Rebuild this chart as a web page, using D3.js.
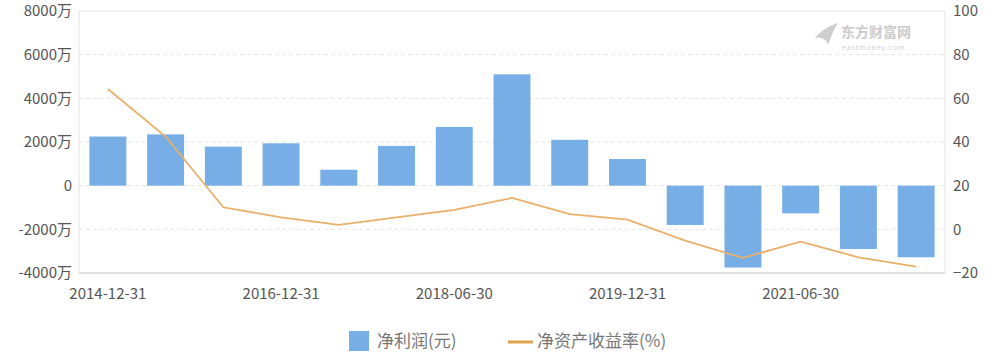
<!DOCTYPE html>
<html><head><meta charset="utf-8">
<script src="https://cdn.jsdelivr.net/npm/d3@7"></script>
<style>
html,body{margin:0;padding:0;background:#fff;}
text{font-family:"Noto Sans CJK SC","Noto Sans",sans-serif;}
</style></head>
<body><svg id="c" width="1000" height="357"></svg>
<script>
const categories = ["2014-12-31","2015-12-31","2016-06-30","2016-12-31","2017-06-30","2017-12-31","2018-06-30","2018-12-31","2019-06-30","2019-12-31","2020-06-30","2020-12-31","2021-06-30","2021-12-31","2022-06-30"];
const netProfit = [2250, 2350, 1790, 1940, 730, 1820, 2690, 5100, 2100, 1220, -1800, -3750, -1270, -2900, -3280]; // 万元
const roe = [64.3, 42.5, 10.1, 5.5, 2.0, 5.5, 8.9, 14.4, 7.0, 4.4, -5.2, -13.1, -5.6, -12.8, -17.1]; // %
const leftTicks = [-4000, -2000, 0, 2000, 4000, 6000, 8000];
const rightTicks = [-20, 0, 20, 40, 60, 80, 100];
const xTickLabels = ["2014-12-31","2016-12-31","2018-06-30","2019-12-31","2021-06-30"];
const legendLabels = ["净利润(元)", "净资产收益率(%)"];

const svg = d3.select("#c");
const L = 79, R = 945, T = 11, B = 273;
const x = d3.scaleBand().domain(categories).range([L, R]).paddingInner(0.36).paddingOuter(0.18);
const yL = d3.scaleLinear().domain([-4000, 8000]).range([B, T]);
const yR = d3.scaleLinear().domain([-20, 100]).range([B, T]);

// grid
svg.append("g").selectAll("line").data(leftTicks.filter(d => d !== -4000 && d !== 8000)).join("line")
  .attr("x1", L).attr("x2", R).attr("y1", d => yL(d)).attr("y2", d => yL(d))
  .attr("stroke", "#e4e4e4").attr("stroke-dasharray", "4,3").attr("stroke-width", 1);

// border
svg.append("rect").attr("x", L).attr("y", T).attr("width", R - L).attr("height", B - T)
  .attr("fill", "none").attr("stroke", "#e2e2e2").attr("stroke-width", 1);
svg.append("line").attr("x1", L).attr("x2", R).attr("y1", B).attr("y2", B).attr("stroke", "#d0d0d0");

// watermark
const wm = svg.append("g");
wm.append("path").attr("d", "M815,38 C822,29 832,25 838,23 C834,29 832,35 828,45 C826,39 822,37 815,38 Z").attr("fill", "#cfcfcf");
wm.append("text").attr("x", 841).attr("y", 37).attr("font-size", 14).attr("font-weight", 700).attr("fill", "#cbcbcb").text("东方财富网");
wm.append("text").attr("x", 842).attr("y", 50).attr("font-size", 7).attr("fill", "#d0d0d0").attr("letter-spacing", 0.9).text("eastmoney.com");

// bars
svg.append("g").selectAll("rect").data(categories).join("rect")
  .attr("x", d => x(d)).attr("width", x.bandwidth())
  .attr("y", (d, i) => yL(Math.max(0, netProfit[i])))
  .attr("height", (d, i) => Math.abs(yL(netProfit[i]) - yL(0)))
  .attr("fill", "#78aee6");

// line
const line = d3.line().x((d, i) => x(categories[i]) + x.bandwidth() / 2).y(d => yR(d));
svg.append("path").datum(roe).attr("d", line).attr("fill", "none")
  .attr("stroke", "#e9b06a").attr("stroke-width", 1.8);

// axes
const axL = d3.axisLeft(yL).tickValues(leftTicks).tickSize(0).tickPadding(7)
  .tickFormat(d => d === 0 ? "0" : d + "万");
const gL = svg.append("g").attr("transform", `translate(${L},0)`).call(axL);
gL.select(".domain").remove();
gL.selectAll("text").attr("font-size", 15).attr("fill", "#555");

const axR = d3.axisRight(yR).tickValues(rightTicks).tickSize(0).tickPadding(8);
const gR = svg.append("g").attr("transform", `translate(${R},0)`).call(axR);
gR.select(".domain").remove();
gR.selectAll("text").attr("font-size", 15).attr("fill", "#555");

const axB = d3.axisBottom(x).tickValues(xTickLabels).tickSize(0).tickPadding(15);
const gB = svg.append("g").attr("transform", `translate(0,${B})`).call(axB);
gB.select(".domain").remove();
gB.selectAll("text").attr("font-size", 15).attr("fill", "#555");

// legend
const lg = svg.append("g");
lg.append("rect").attr("x", 349).attr("y", 331).attr("width", 20).attr("height", 20).attr("fill", "#78aee6");
lg.append("text").attr("x", 377).attr("y", 347).attr("font-size", 17).attr("fill", "#777").text(legendLabels[0]);
lg.append("line").attr("x1", 508).attr("x2", 533).attr("y1", 342).attr("y2", 342).attr("stroke", "#e0a24e").attr("stroke-width", 3);
lg.append("text").attr("x", 537).attr("y", 347).attr("font-size", 17).attr("fill", "#777").text(legendLabels[1]);
</script>
</body></html>
